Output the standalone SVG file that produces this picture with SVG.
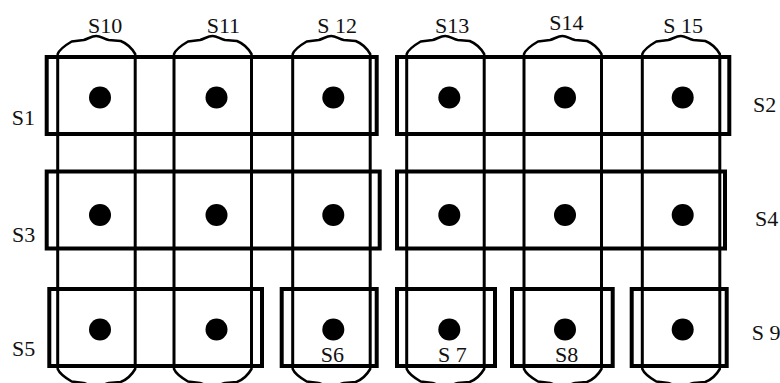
<svg xmlns="http://www.w3.org/2000/svg" xmlns:xlink="http://www.w3.org/1999/xlink" width="780" height="383" viewBox="0 0 780 383">
<style>
.row{fill:none;stroke:#000;stroke-width:4}
.col{fill:none;stroke:#000;stroke-width:3}
.cap{fill:none;stroke:#000;stroke-width:2.5;stroke-linejoin:round}
.dot{fill:#000}
text{font-family:'Liberation Serif','DejaVu Serif','Times New Roman',serif;font-size:22px;fill:#111}
</style>
<defs>
<path id="cap" class="cap" d="M0,0 V-3 C2,-8 8,-12 14,-15.5 L26,-17 C30,-18 34,-21 38.5,-21 C43,-21 46,-18 51,-17 L63,-16 C68,-14 74,-9 77.5,-3 V0"/>
</defs>
<rect width="780" height="383" fill="#fff"/>
<g id="columns">
<g id="S10"><rect class="col" x="57.7" y="57" width="77.5" height="309"/><use xlink:href="#cap" x="57.7" y="57"/><use xlink:href="#cap" transform="translate(57.7,366) scale(1,-1)"/></g>
<g id="S11"><rect class="col" x="174" y="57" width="77.5" height="309"/><use xlink:href="#cap" x="174" y="57"/><use xlink:href="#cap" transform="translate(174,366) scale(1,-1)"/></g>
<g id="S12"><rect class="col" x="292.7" y="57" width="77.5" height="309"/><use xlink:href="#cap" x="292.7" y="57"/><use xlink:href="#cap" transform="translate(292.7,366) scale(1,-1)"/></g>
<g id="S13"><rect class="col" x="406.7" y="57" width="77.5" height="309"/><use xlink:href="#cap" x="406.7" y="57"/><use xlink:href="#cap" transform="translate(406.7,366) scale(1,-1)"/></g>
<g id="S14"><rect class="col" x="524" y="57" width="77.5" height="309"/><use xlink:href="#cap" x="524" y="57"/><use xlink:href="#cap" transform="translate(524,366) scale(1,-1)"/></g>
<g id="S15"><rect class="col" x="642.3" y="57" width="77.5" height="309"/><use xlink:href="#cap" x="642.3" y="57"/><use xlink:href="#cap" transform="translate(642.3,366) scale(1,-1)"/></g>
</g>
<g id="rows">
<g id="S1"><rect class="row" x="46.7" y="57" width="330" height="77"/></g>
<g id="S2"><rect class="row" x="397" y="57" width="332.3" height="77"/></g>
<g id="S3"><rect class="row" x="46.7" y="171.5" width="333" height="77"/></g>
<g id="S4"><rect class="row" x="397" y="171.5" width="328" height="77"/></g>
<g id="S5"><rect class="row" x="49.3" y="289" width="212.7" height="77"/></g>
<g id="S6"><rect class="row" x="281.7" y="289" width="95" height="77"/></g>
<g id="S7"><rect class="row" x="397" y="289" width="98" height="77"/></g>
<g id="S8"><rect class="row" x="512" y="289" width="100.7" height="77"/></g>
<g id="S9"><rect class="row" x="631.7" y="289" width="95" height="77"/></g>
</g>
<g id="dots">
<circle class="dot" cx="100" cy="97.5" r="11"/><circle class="dot" cx="216.5" cy="97.5" r="11"/><circle class="dot" cx="333.3" cy="97.5" r="11"/><circle class="dot" cx="449.3" cy="97.5" r="11"/><circle class="dot" cx="565" cy="97.5" r="11"/><circle class="dot" cx="682.7" cy="97.5" r="11"/>
<circle class="dot" cx="100" cy="215" r="11"/><circle class="dot" cx="216.5" cy="215" r="11"/><circle class="dot" cx="333.3" cy="215" r="11"/><circle class="dot" cx="449.3" cy="215" r="11"/><circle class="dot" cx="565" cy="215" r="11"/><circle class="dot" cx="682.7" cy="215" r="11"/>
<circle class="dot" cx="100" cy="329.5" r="11"/><circle class="dot" cx="216.5" cy="329.5" r="11"/><circle class="dot" cx="333.3" cy="329.5" r="11"/><circle class="dot" cx="449.3" cy="329.5" r="11"/><circle class="dot" cx="565" cy="329.5" r="11"/><circle class="dot" cx="682.7" cy="329.5" r="11"/>
</g>
<g id="labels">
<text x="88" y="33">S10</text>
<text x="206.7" y="33">S11</text>
<text x="317.3" y="33" xml:space="preserve">S 12</text>
<text x="435" y="33">S13</text>
<text x="549.3" y="30">S14</text>
<text x="663.3" y="33" xml:space="preserve">S 15</text>
<text x="11.7" y="125">S1</text>
<text x="753" y="112">S2</text>
<text x="12" y="242">S3</text>
<text x="755" y="226">S4</text>
<text x="12" y="356">S5</text>
<text x="320.7" y="362">S6</text>
<text x="438" y="362" xml:space="preserve">S 7</text>
<text x="555" y="362">S8</text>
<text x="751.7" y="340" xml:space="preserve">S 9</text>
</g>
</svg>
